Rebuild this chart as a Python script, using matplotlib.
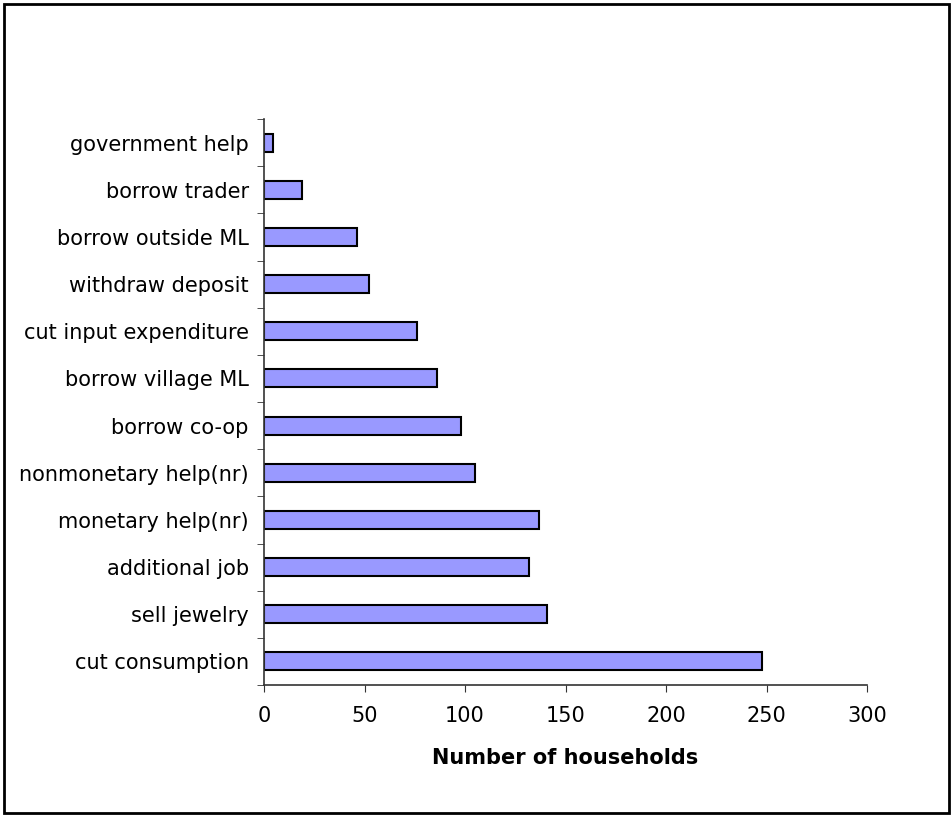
import matplotlib
matplotlib.use("Agg")
import matplotlib.pyplot as plt
from matplotlib.patches import Rectangle

categories = ["cut consumption", "sell jewelry", "additional job", "monetary help(nr)",
              "nonmonetary help(nr)", "borrow co-op", "borrow village ML",
              "cut input expenditure", "withdraw deposit", "borrow outside ML",
              "borrow trader", "government help"]
values = [248, 141, 132, 137, 105, 98, 86, 76, 52, 46.5, 19, 4.5]
xticks = [0, 50, 100, 150, 200, 250, 300]

plt.rcParams['font.family'] = ['DejaVu Sans']
fig = plt.figure(figsize=(9.53, 8.17), dpi=100)
ax = fig.add_axes([264/953, 1-685/817, (867-264)/953, (685-119)/817])

y = list(range(len(categories)))
ax.barh(y, values, height=0.38, color="#9999FF", edgecolor="black", linewidth=1.5)
ax.set_ylim(-0.5, len(categories)-0.5)
ax.set_xlim(0, 300)
ax.set_xticks(xticks)
ax.set_xticklabels([str(t) for t in xticks], fontsize=15)
ax.set_yticks(y)
ax.set_yticklabels(categories, fontsize=15)
ax.set_yticks([i + 0.5 for i in range(-1, len(categories))], minor=True)
ax.tick_params(axis='y', which='major', length=0, pad=11)
ax.tick_params(axis='y', which='minor', length=5, color='#333333')
ax.tick_params(axis='x', length=5, color='#333333', pad=10)
for s in ['top', 'right']:
    ax.spines[s].set_visible(False)
for s in ['left', 'bottom']:
    ax.spines[s].set_color('#333333')
    ax.spines[s].set_linewidth(1.2)
ax.set_xlabel("Number of households", fontsize=15, fontweight='bold', labelpad=16)

fig.patches.append(Rectangle((4/953, 4/817), 945/953, 809/817, transform=fig.transFigure,
                             fill=False, edgecolor='black', linewidth=2))
fig.savefig("out.png", dpi=100)
